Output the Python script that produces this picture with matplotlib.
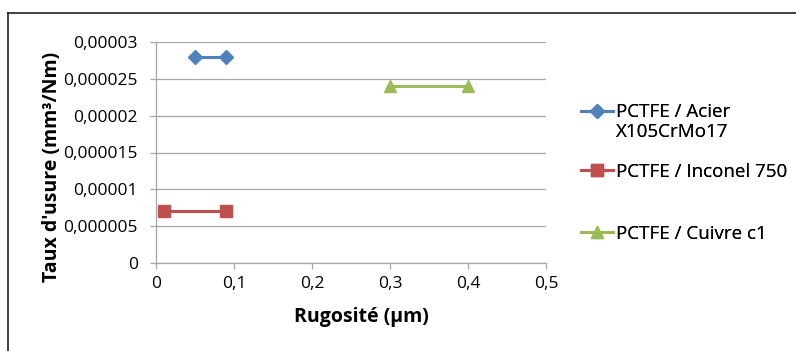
import matplotlib
matplotlib.use("Agg")
import matplotlib.pyplot as plt
from matplotlib.lines import Line2D
from matplotlib.legend_handler import HandlerLine2D

plt.rcParams['font.family'] = ['Open Sans', 'DejaVu Sans']

# Data
series_names = ["PCTFE / Acier\nX105CrMo17", "PCTFE / Inconel 750", "PCTFE / Cuivre c1"]
acier_x = [0.05, 0.09]
acier_y = [0.000028, 0.000028]
inconel_x = [0.01, 0.09]
inconel_y = [0.000007, 0.000007]
cuivre_x = [0.3, 0.4]
cuivre_y = [0.000024, 0.000024]
x_ticks = [0, 0.1, 0.2, 0.3, 0.4, 0.5]
x_tick_labels = ["0", "0,1", "0,2", "0,3", "0,4", "0,5"]
y_ticks = [0, 0.000005, 0.00001, 0.000015, 0.00002, 0.000025, 0.00003]
y_tick_labels = ["0", "0,000005", "0,00001", "0,000015", "0,00002", "0,000025", "0,00003"]

colors = ["#4F81BD", "#C0504D", "#9BBB59"]
markers = ["D", "s", "^"]
msizes = [7, 8, 8.5]

W, H = 796, 351
fig = plt.figure(figsize=(W/100, H/100), dpi=100)
ax = fig.add_axes([156/W, 1-263/H, (546-156)/W, (263-42)/H])

data = [(acier_x, acier_y), (inconel_x, inconel_y), (cuivre_x, cuivre_y)]
for (xs, ys), c, m, ms in zip(data, colors, markers, msizes):
    ax.plot(xs, ys, color=c, lw=2.2, marker=m, markersize=ms, markeredgecolor=c, clip_on=False)

ax.set_xlim(0, 0.5)
ax.set_ylim(0, 0.00003)
ax.set_xticks(x_ticks)
ax.set_xticklabels(x_tick_labels)
ax.set_yticks(y_ticks)
ax.set_yticklabels(y_tick_labels)
gray = "#A6A6A6"
ax.grid(axis='y', color=gray, lw=0.9)
ax.set_axisbelow(True)
for s in ['top', 'right']:
    ax.spines[s].set_visible(False)
for s in ['left', 'bottom']:
    ax.spines[s].set_color(gray)
    ax.spines[s].set_linewidth(0.9)
ax.tick_params(axis='both', colors=gray, length=4.5, width=0.9, labelcolor='#000000', labelsize=12.5)
ax.tick_params(axis='x', pad=5)
ax.tick_params(axis='y', pad=8.5)

ax.set_xlabel("Rugosité (µm)", fontsize=14, fontweight='bold', va='center')
ax.xaxis.set_label_coords((361-156)/390, (263-317)/221)
ax.set_ylabel("Taux d'usure (mm³/Nm)", fontsize=14, fontweight='bold', va='center')
ax.yaxis.set_label_coords((52-156)/390, (263-167)/221)


class ShiftHandler(HandlerLine2D):
    def __init__(self, dy=0, **kw):
        super().__init__(**kw)
        self.dy = dy

    def create_artists(self, legend, orig_handle, xdescent, ydescent, width, height, fontsize, trans):
        return super().create_artists(legend, orig_handle, xdescent, ydescent - self.dy,
                                      width, height, fontsize, trans)


# Legend entries placed individually
legend_y = [122, 172, 234]
shifts = [16, 0, 0]
for name, c, m, ms, yy, dy in zip(series_names, colors, markers, msizes, legend_y, shifts):
    h = Line2D([], [], color=c, lw=2.2, marker=m, markersize=ms, markeredgecolor=c)
    leg = fig.legend([h], [name], loc='center left',
                     bbox_to_anchor=(581/W, 1-yy/H), frameon=False,
                     fontsize=13.5, handlelength=1.7, handletextpad=0.15,
                     borderpad=0, borderaxespad=0,
                     handler_map={h: ShiftHandler(dy=dy)})
    for t in leg.get_texts():
        t.set_linespacing(1.1)
    fig.add_artist(leg)

# Outer border (top and left visible)
fig.add_artist(Line2D([8/W, 1.0], [1-13/H, 1-13/H], color='#222222', lw=1.2, transform=fig.transFigure))
fig.add_artist(Line2D([8/W, 8/W], [0, 1-13/H], color='#222222', lw=1.2, transform=fig.transFigure))

fig.savefig("out.png", dpi=100)
